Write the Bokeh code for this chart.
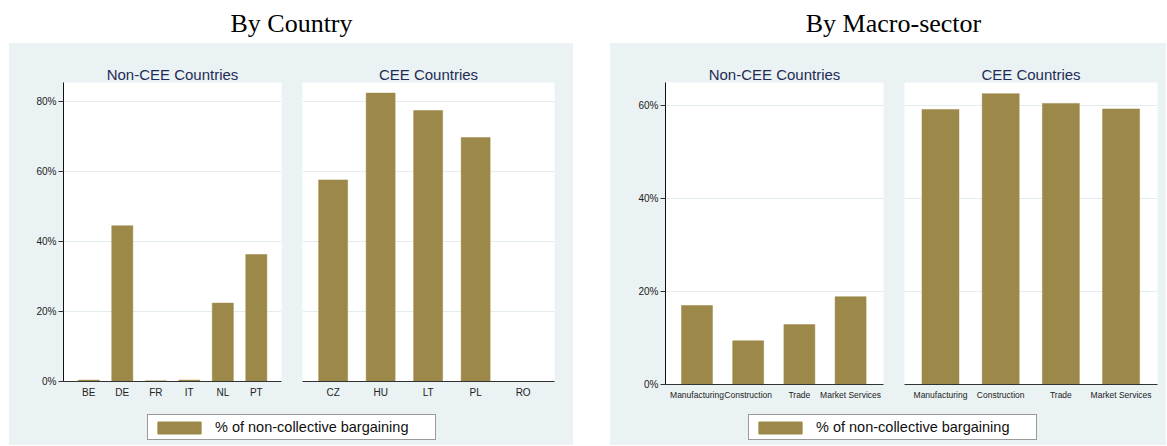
from bokeh.plotting import figure
from bokeh.layouts import row, column, Spacer
from bokeh.models import (Range1d, FixedTicker, PrintfTickFormatter, Legend, LegendItem,
                          ColumnDataSource, Title, Grid)
from bokeh.embed import file_html
from bokeh.resources import INLINE

# ---------------- data ----------------
country_noncee = ["BE", "DE", "FR", "IT", "NL", "PT"]
share_country_noncee = [0.4, 44.5, 0.2, 0.4, 22.4, 36.3]
country_cee = ["CZ", "HU", "LT", "PL", "RO"]
share_country_cee = [57.6, 82.4, 77.4, 69.7, 0.0]

sectors = ["Manufacturing", "Construction", "Trade", "Market Services"]
share_sector_noncee = [17.0, 9.4, 12.9, 18.9]
share_sector_cee = [59.2, 62.6, 60.5, 59.3]

country_ticks = [0, 20, 40, 60, 80]
sector_ticks = [0, 20, 40, 60]

title_country = "By Country"
title_sector = "By Macro-sector"
sub_noncee = "Non-CEE Countries"
sub_cee = "CEE Countries"
legend_label = "% of non-collective bargaining"

# ---------------- style ----------------
BG = "#EAF2F3"
BAR = "#9C8848"
GRID = "#E3EDEF"
NAVY = "#1F2D56"
AXIS = "#333333"
SANS = "Liberation Sans"
SERIF = "Liberation Serif"
ROW_H = 362


def panel(cats, vals, subtitle, width, mb_left, mb_right, mb_bottom, pad_l, pad_r,
          bar_w, y_max, ticks, show_y, lab_size):
    idx = list(range(len(cats)))
    p = figure(width=width, height=ROW_H, output_backend="svg", toolbar_location=None,
               x_range=Range1d(-pad_l, len(cats) - 1 + pad_r), y_range=Range1d(0, y_max),
               min_border_left=mb_left, min_border_right=mb_right,
               min_border_top=39, min_border_bottom=mb_bottom,
               background_fill_color="white", border_fill_color=BG,
               outline_line_color=None,
               y_axis_location="left" if show_y else None)
    p.title = Title(text=subtitle, align="center", text_font=SANS, text_font_size="15px",
                    text_font_style="normal", text_color=NAVY, standoff=0)
    p.xgrid.visible = False
    p.ygrid.visible = False
    p.add_layout(Grid(dimension=1, ticker=FixedTicker(ticks=ticks),
                      grid_line_color=GRID, grid_line_width=1))
    src = ColumnDataSource(dict(x=idx, top=vals))
    p.vbar(x="x", top="top", width=bar_w, source=src, fill_color=BAR, line_color=BAR,
           line_width=0.5)
    xa = p.xaxis[0]
    xa.ticker = FixedTicker(ticks=idx)
    xa.major_label_overrides = {i: c for i, c in enumerate(cats)}
    xa.major_tick_line_color = None
    xa.major_tick_out = 0
    xa.major_tick_in = 0
    xa.minor_tick_line_color = None
    xa.minor_tick_out = 0
    xa.axis_line_color = AXIS
    xa.axis_line_width = 1
    xa.major_label_text_font = SANS
    xa.major_label_text_font_size = lab_size
    xa.major_label_text_color = "#222222"
    xa.major_label_standoff = 5
    if show_y:
        ya = p.yaxis[0]
        ya.ticker = FixedTicker(ticks=ticks)
        ya.formatter = PrintfTickFormatter(format="%d%%")
        ya.major_tick_out = 5
        ya.major_tick_in = 0
        ya.major_tick_line_color = AXIS
        ya.minor_tick_line_color = None
        ya.axis_line_color = "#111111"
        ya.axis_line_width = 1
        ya.major_label_text_font = SANS
        ya.major_label_text_font_size = "10px"
        ya.major_label_text_color = "#222222"
        ya.major_label_standoff = 2
    return p


def title_fig(text, width, mb_left):
    t = figure(width=width, height=37, output_backend="svg", toolbar_location=None,
               x_axis_location=None, y_axis_location=None, min_border=0,
               min_border_left=mb_left, outline_line_color=None,
               background_fill_color="white", border_fill_color="white")
    t.xgrid.visible = False
    t.ygrid.visible = False
    t.title = Title(text=text, align="center", text_font=SERIF, text_font_size="26px",
                    text_font_style="normal", text_color="black", standoff=0)
    return column(Spacer(width=width, height=6), t)


def legend_fig(width, loc_x, cats, vals):
    # the legend's own (hidden) renderer carries the bar style for the swatch
    lf = figure(width=width, height=40, output_backend="svg", toolbar_location=None,
                x_axis_location=None, y_axis_location=None, min_border=0,
                outline_line_color=None, background_fill_color=BG, border_fill_color=BG)
    lf.xgrid.visible = False
    lf.ygrid.visible = False
    src = ColumnDataSource(dict(x=list(range(len(cats))), top=vals))
    r = lf.vbar(x="x", top="top", width=0.6, source=src, fill_color=BAR, line_color=BAR,
                visible=False)
    leg = Legend(items=[LegendItem(label=legend_label, renderers=[r], index=0)],
                 location=(loc_x, 5), margin=0, padding=4, spacing=0,
                 glyph_width=54, glyph_height=15, label_standoff=9,
                 label_width=216, label_height=16,
                 label_text_font=SANS, label_text_font_size="14.5px",
                 label_text_color="#111111",
                 border_line_color="#333333", border_line_width=1,
                 background_fill_color="white", background_fill_alpha=1.0)
    lf.add_layout(leg)
    return lf


# left half: By Country
p1 = panel(country_noncee, share_country_noncee, sub_noncee, 283, 54, 11, 24,
           0.755, 0.752, 0.63, 85.43, country_ticks, True, "10px")
p2 = panel(country_cee, share_country_cee, sub_cee, 281, 10, 19, 24,
           0.645, 0.66, 0.61, 85.43, country_ticks, False, "10px")
left = column(title_fig(title_country, 564, 0),
              column(row(p1, p2, styles={"background-color": BG}),
                     legend_fig(564, 138, country_noncee, share_country_noncee),
                     styles={"background-color": BG}))

# right half: By Macro-sector
p3 = panel(sectors, share_sector_noncee, sub_noncee, 284, 55, 11, 21,
           0.615, 0.643, 0.605, 65.0, sector_ticks, True, "8.5px")
p4 = panel(sectors, share_sector_cee, sub_cee, 272, 10, 9, 21,
           0.598, 0.605, 0.615, 65.0, sector_ticks, False, "8.5px")
right = column(title_fig(title_sector, 556, 10),
               column(row(p3, p4, styles={"background-color": BG}),
                      legend_fig(556, 138, sectors, share_sector_noncee),
                      styles={"background-color": BG}))

page = row(Spacer(width=9, height=445), left, Spacer(width=37, height=445), right)

open("out.html", "w").write(file_html(page, INLINE))
